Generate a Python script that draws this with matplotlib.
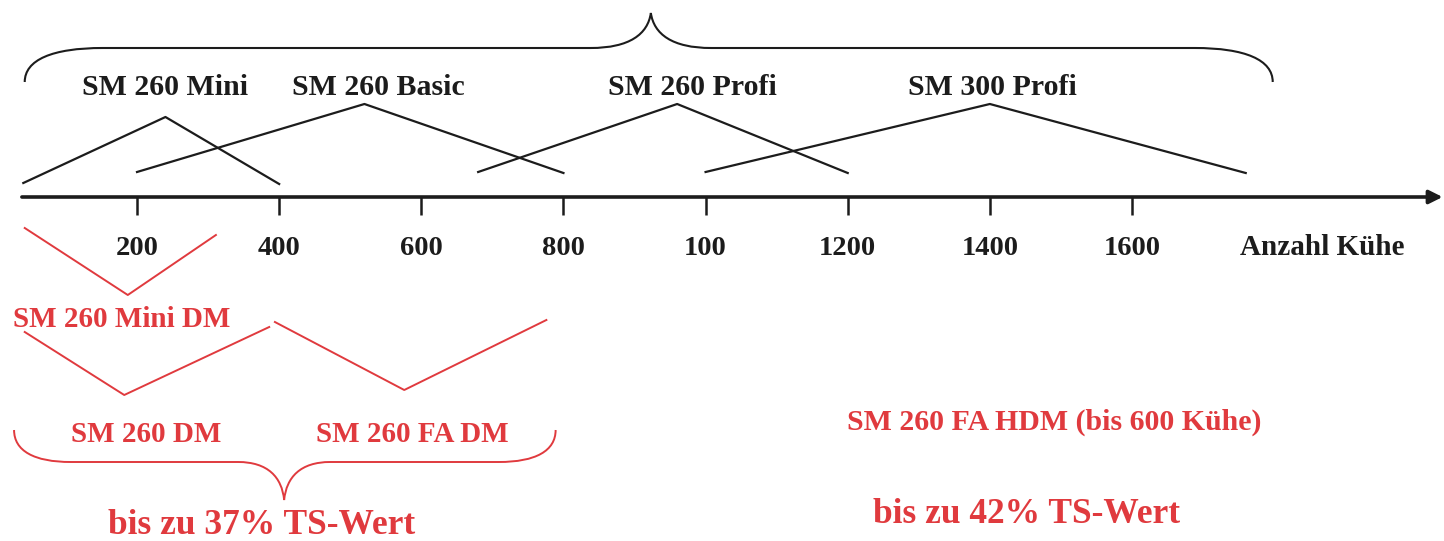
import matplotlib
matplotlib.use("Agg")
import matplotlib.pyplot as plt
from matplotlib.path import Path
from matplotlib.patches import PathPatch

# ---------------- data (x in "Anzahl Kühe", y in diagram rows) ----------------
tick_values = [200, 400, 600, 800, 1000, 1200, 1400, 1600]
tick_labels = ["200", "400", "600", "800", "100", "1200", "1400", "1600"]
axis_label = "Anzahl Kühe"

models = ["SM 260 Mini", "SM 260 Basic", "SM 260 Profi", "SM 300 Profi"]
model_start = [40, 200, 680, 1000]
model_peak = [240, 520, 960, 1400]
model_end = [400, 800, 1200, 1760]
model_y_start = [183, 172, 172, 172]
model_y_peak = [117, 104, 104, 104]
model_y_end = [184, 173, 173, 173]
model_label_x = [240, 540, 982, 1404]

dm_models = ["SM 260 Mini DM", "SM 260 DM", "SM 260 FA DM"]
dm_left = [42, 42, 394]
dm_bottom = [187, 182, 576]
dm_right = [311, 386, 776]
dm_y_left = [228, 332, 322]
dm_y_bottom = [295, 395, 390]
dm_y_right = [235, 327, 320]
dm_label_x = [179, 213, 588]
dm_label_y = [327, 442, 442]

hdm_label = "SM 260 FA HDM (bis 600 Kühe)"
ts_labels = ["bis zu 37% TS-Wert", "bis zu 42% TS-Wert"]
ts_x = [376, 1452]
ts_y = [534, 523]

BLACK = "#1c1c1c"
RED = "#e03a3e"
FONT = "Liberation Serif"

fig = plt.figure(figsize=(14.44, 5.41), dpi=100)
ax = fig.add_axes([0, 0, 1, 1])
ax.set_xlim(7.2, 2039)
ax.set_ylim(541, 0)
ax.axis("off")

# main axis with arrow
AXIS_Y = 197
ax.annotate("", xy=(2037, AXIS_Y), xytext=(38, AXIS_Y),
            arrowprops=dict(arrowstyle="-|>", lw=2.6, color=BLACK,
                            mutation_scale=20, shrinkA=0, shrinkB=0))
for v, lab in zip(tick_values, tick_labels):
    ax.plot([v, v], [AXIS_Y, 215], color=BLACK, lw=1.8, solid_capstyle="butt")
    ax.text(v, 255, lab, ha="center", va="baseline", fontsize=20.5,
            fontfamily=FONT, fontweight="bold", color=BLACK)
ax.text(1867, 255, axis_label, ha="center", va="baseline", fontsize=21,
        fontfamily=FONT, fontweight="bold", color=BLACK)

# black model triangles
for i, name in enumerate(models):
    ax.plot([model_start[i], model_peak[i], model_end[i]],
            [model_y_start[i], model_y_peak[i], model_y_end[i]],
            color=BLACK, lw=1.6)
    ax.text(model_label_x[i], 95, name, ha="center", va="baseline",
            fontsize=21.5, fontfamily=FONT, fontweight="bold", color=BLACK)

# red DM V shapes
for i, name in enumerate(dm_models):
    ax.plot([dm_left[i], dm_bottom[i], dm_right[i]],
            [dm_y_left[i], dm_y_bottom[i], dm_y_right[i]],
            color=RED, lw=1.4)
    ax.text(dm_label_x[i], dm_label_y[i], name, ha="center", va="baseline",
            fontsize=21, fontfamily=FONT, fontweight="bold", color=RED)

ax.text(1490, 430, hdm_label, ha="center", va="baseline", fontsize=21.5,
        fontfamily=FONT, fontweight="bold", color=RED)
for x, y, t in zip(ts_x, ts_y, ts_labels):
    ax.text(x, y, t, ha="center", va="baseline", fontsize=25.5,
            fontfamily=FONT, fontweight="bold", color=RED)


def brace(x0, xm, x1, y_end, y_bar, y_tip, curl, tip_w, color, lw):
    M, C, L = Path.MOVETO, Path.CURVE4, Path.LINETO
    dy_end = y_bar - y_end
    dy_tip = y_tip - y_bar
    verts = [
        (x0, y_end),
        (x0, y_end + dy_end * 0.65), (x0 + curl * 0.35, y_bar), (x0 + curl, y_bar),
        (xm - tip_w, y_bar),
        (xm - tip_w * 0.35, y_bar), (xm - tip_w * 0.05, y_bar + dy_tip * 0.4), (xm, y_tip),
        (xm + tip_w * 0.05, y_bar + dy_tip * 0.4), (xm + tip_w * 0.35, y_bar), (xm + tip_w, y_bar),
        (x1 - curl, y_bar),
        (x1 - curl * 0.35, y_bar), (x1, y_end + dy_end * 0.65), (x1, y_end),
    ]
    codes = [M, C, C, C, L, C, C, C, C, C, C, L, C, C, C]
    ax.add_patch(PathPatch(Path(verts, codes), facecolor="none",
                           edgecolor=color, lw=lw))


brace(42, 923, 1798, 82, 48, 13, 110, 85, BLACK, 1.5)
brace(27, 407, 789, 430, 462, 500, 80, 65, RED, 1.4)

fig.savefig("out.png", dpi=100, facecolor="white")
